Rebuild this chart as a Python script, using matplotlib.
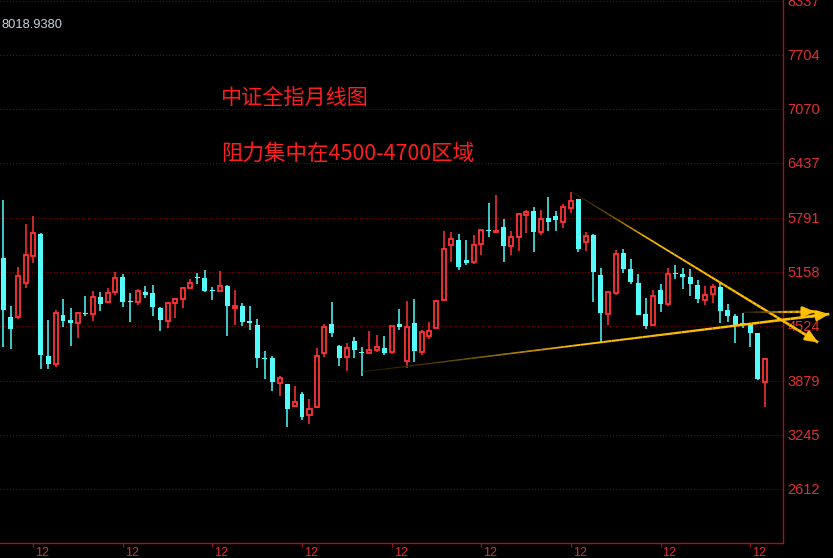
import numpy as np
import matplotlib
matplotlib.use("Agg")
import matplotlib.pyplot as plt
from matplotlib.collections import LineCollection
from matplotlib.transforms import ScaledTranslation

# monthly candles (index 0 = first visible month)
opens = [5317, 4624, 4624, 5020, 5344, 5600, 4167, 4076, 4648, 4589,
         4558, 4668, 4663, 4856, 4804, 4915, 5091, 4817, 4797, 4915,
         4906, 4730, 4581, 4793, 4840, 4968, 5091, 5083, 4930, 4934,
         4989, 4734, 4754, 4574, 4531, 4140, 4143, 3854, 3836, 3576,
         3721, 3471, 3565, 4199, 4539, 4284, 4159, 4343, 4210, 4206,
         4241, 4261, 4218, 4542, 4112, 4554, 4218, 4405, 4499, 4828,
         5474, 5525, 5294, 5274, 5478, 5642, 5622, 5681, 5462, 5560,
         5825, 5869, 5626, 5787, 5810, 5743, 5908, 6008, 5508, 5587,
         5117, 4661, 4911, 5376, 5188, 5024, 4660, 4535, 4938, 4781,
         5137, 5129, 5094, 5000, 4828, 4899, 4977, 4707, 4636, 4554,
         4542, 4437, 3863]
highs = [5998, 4754, 5211, 5716, 5810, 5607, 4589, 4703, 4836, 4730,
         4683, 4871, 4930, 4918, 4965, 5153, 5129, 4906, 4950, 4989,
         4997, 4742, 4801, 4844, 4973, 5071, 5141, 5176, 4977, 5165,
         4997, 4942, 4789, 4754, 4601, 4225, 4167, 3932, 3838, 3815,
         3744, 3662, 4261, 4543, 4801, 4296, 4319, 4390, 4272, 4460,
         4413, 4402, 4519, 4719, 4813, 4836, 4468, 4570, 4821, 5634,
         5622, 5599, 5528, 5587, 5646, 5963, 6057, 5775, 5634, 5834,
         5881, 5916, 5881, 6033, 5869, 5951, 6092, 6010, 5626, 5603,
         5196, 4922, 5411, 5423, 5306, 5129, 4848, 4942, 5012, 5196,
         5235, 5200, 5188, 5059, 4989, 5016, 5020, 4777, 4660, 4671,
         4550, 4440, 4138]
lows = [4276, 4252, 4604, 4968, 5262, 4017, 4017, 4034, 4511, 4287,
        4381, 4640, 4581, 4698, 4792, 4887, 4745, 4569, 4762, 4851,
        4640, 4464, 4499, 4616, 4734, 4957, 5012, 4918, 4828, 4934,
        4405, 4534, 4522, 4475, 4030, 3900, 3758, 3700, 3337, 3572,
        3419, 3372, 3560, 4159, 4393, 4053, 3994, 4147, 3935, 4204,
        4218, 4182, 4194, 4475, 4030, 4096, 4182, 4366, 4497, 4816,
        5274, 5180, 5235, 5250, 5353, 5563, 5610, 5270, 5353, 5399,
        5614, 5391, 5591, 5638, 5638, 5673, 5849, 5391, 5403, 4805,
        4335, 4531, 4883, 5145, 5012, 4650, 4487, 4519, 4687, 4758,
        5071, 4954, 4875, 4793, 4766, 4793, 4558, 4569, 4323, 4495,
        4276, 3885, 3570]
closes = [4710, 4487, 5102, 5349, 5607, 4182, 4076, 4668, 4581, 4558,
          4668, 4665, 4856, 4781, 4903, 5079, 4804, 4797, 4926, 4883,
          4745, 4589, 4786, 4833, 4962, 5020, 5088, 4930, 4926, 4985,
          4757, 4754, 4569, 4558, 4147, 4137, 3865, 3905, 3548, 3623,
          3454, 3541, 4163, 4507, 4441, 4147, 4257, 4241, 4207, 4234,
          4269, 4202, 4515, 4507, 4507, 4225, 4445, 4460, 4809, 5419,
          5537, 5215, 5258, 5466, 5642, 5639, 5630, 5462, 5560, 5830,
          5854, 5626, 5775, 5744, 5767, 5912, 5986, 5428, 5575, 5157,
          4668, 4915, 5360, 5188, 5039, 4652, 4519, 4868, 4781, 5126,
          5135, 5098, 5016, 4840, 4883, 4977, 4699, 4640, 4531, 4546,
          4440, 3897, 4138]

price_levels = [8337, 7704, 7070, 6437, 5791, 5158, 4524, 3879, 3245, 2612]
december_idx = [4, 16, 28, 40, 52, 64, 76, 88, 100]
month_label = "12"
max_label = "8018.9380"
title_lines = ["中证全指月线图", "阻力集中在4500-4700区域"]

# hand-drawn trend lines (start index, start price, end index, end price)
support_line = (48.1, 3982, 110.6, 4660)
resist_line = (76.1, 6095, 109.1, 4327)
flat_arrow = (99.0, 4680, 108.7, 4687)

RED = "#ff3434"
CYAN = "#54fcfc"
GRID = "#8c0000"
AXIS = "#a01414"
GOLD = "#ffbe00"

plt.rcParams['font.family'] = ['Noto Sans CJK SC', 'DejaVu Sans']

fig = plt.figure(figsize=(8.33, 5.58), dpi=100, facecolor="black")
ax = fig.add_axes([0, 15 / 558, 783 / 833, 543 / 558], facecolor="black")

o = np.array(opens)
h = np.array(highs)
l = np.array(lows)
c = np.array(closes)
x = np.arange(len(o))
up = c >= o
w = 0.66
min_h = 12

# falling months: filled cyan
dn = ~up
ax.vlines(x[dn], l[dn], h[dn], color=CYAN, linewidth=1.1, zorder=2)
ax.bar(x[dn], np.maximum(o[dn] - c[dn], min_h), bottom=c[dn], width=w,
       color=CYAN, linewidth=0, zorder=3)

# rising months: hollow red
top = np.maximum(o, c)
bot = np.minimum(o, c)
ax.vlines(x[up], top[up], h[up], color=RED, linewidth=1.1, zorder=2)
ax.vlines(x[up], l[up], bot[up], color=RED, linewidth=1.1, zorder=2)
ax.bar(x[up], np.maximum(c[up] - o[up], min_h), bottom=o[up], width=w - 0.12,
       facecolor="black", edgecolor=RED, linewidth=1.3, zorder=3)


def fade_line(line, fade, lw0, lw1, head=True):
    x0, y0, x1, y1 = line
    t = np.linspace(0, 1, 61)
    px = x0 + (x1 - x0) * t
    py = y0 + (y1 - y0) * t
    segs = [[(px[i], py[i]), (px[i + 1], py[i + 1])] for i in range(60)]
    tm = (t[:-1] + t[1:]) / 2
    a = np.clip(tm / fade, 0, 1) ** 1.5
    rgb = np.array(matplotlib.colors.to_rgb(GOLD))
    cols = [tuple(rgb * (0.15 + 0.85 * ai)) + (1.0,) for ai in a]
    lws = lw0 + (lw1 - lw0) * tm
    lc = LineCollection(segs, colors=cols, linewidths=lws, zorder=5,
                        clip_on=False, capstyle="butt")
    ax.add_collection(lc)
    if head:
        ax.annotate("", xy=(x1, y1), xytext=(x1 - (x1 - x0) * 0.04, y1 - (y1 - y0) * 0.04),
                    arrowprops=dict(arrowstyle="-|>,head_length=0.7,head_width=0.3",
                                    color=GOLD, lw=lw1, shrinkA=0, shrinkB=0),
                    annotation_clip=False, zorder=6)


fade_line(support_line, 0.45, 0.8, 2.0)
fade_line(resist_line, 0.3, 0.8, 2.0)
fade_line(flat_arrow, 0.6, 1.0, 2.0)

ax.set_xlim(-0.44, 104.4)
ax.set_ylim(1973, 8345)

ax.yaxis.tick_right()
ax.set_yticks(price_levels)
ax.set_yticklabels([str(v) for v in price_levels], color="#e03030",
                   fontsize=10.5, family="Liberation Sans")
ax.tick_params(axis="y", length=0, pad=3)
ax.grid(axis="y", color=GRID, linestyle=(0, (1, 2)), linewidth=0.75)
ax.set_axisbelow(True)

ax.set_xticks(december_idx)
ax.set_xticklabels([month_label] * len(december_idx), color="#e03030",
                   fontsize=9, family="Liberation Sans")
ax.tick_params(axis="x", length=3, width=0.8, color=AXIS, pad=0)
for lab in ax.get_xticklabels():
    lab.set_horizontalalignment("left")
    lab.set_transform(lab.get_transform() + ScaledTranslation(2 / 100, 0, fig.dpi_scale_trans))

for s in ["left", "top"]:
    ax.spines[s].set_visible(False)
for s in ["right", "bottom"]:
    ax.spines[s].set_color(AXIS)
    ax.spines[s].set_linewidth(1)

fig.text(2 / 833, 1 - 25.5 / 558, max_label, color="#c8d2dc", fontsize=9.3,
         family="Liberation Sans", va="center", ha="left")
fig.text(221 / 833, 1 - 97.5 / 558, title_lines[0], color="#ff1e1e", fontsize=15.2,
         va="center", ha="left")
fig.text(221 / 833, 1 - 154 / 558, title_lines[1], color="#ff1e1e", fontsize=15.5,
         va="center", ha="left")

fig.savefig("out.png", dpi=100, facecolor="black")
